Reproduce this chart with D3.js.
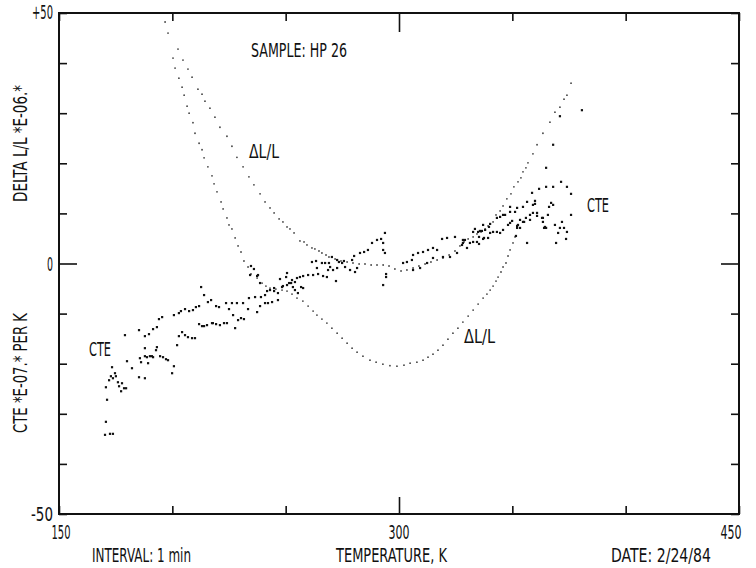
<!DOCTYPE html>
<html>
<head>
<meta charset="utf-8">
<script src="https://cdn.jsdelivr.net/npm/d3@7"></script>
<style>
html, body { margin: 0; padding: 0; background: #fff; }
svg { display: block; font-family: "Liberation Sans Narrow", "DejaVu Sans Condensed", "Liberation Sans", Arial, sans-serif; }
</style>
</head>
<body>
<svg id="chart" width="756" height="568"></svg>
<script>
// Eixos
const xTicks = [150, 200, 250, 300, 350, 400, 450];
const yTicks = [-50, -40, -30, -20, -10, 0, 10, 20, 30, 40, 50];
const xLabels = ['150', '300', '450'];
const yLabels = ['+50', '0', '-50'];

// Delta L/L, primeira corrida (curva inferior)  [T, valor]
const dlA = [
  [196.8,48.2],[198.1,46.0],[200.3,41.0],[201.2,39.0],[202.9,37.0],[204.3,35.2],[205.2,33.6],[206.5,31.4],
  [207.4,30.0],[209.1,28.1],[210.0,26.0],[211.8,24.0],[213.1,22.7],[214.0,21.1],[215.7,19.3],[217.5,17.5],
  [218.4,15.9],[219.7,14.3],[221.5,12.3],[222.4,10.9],[224.1,9.1],[225.0,7.7],[226.3,6.9],[227.7,5.1],
  [229.0,3.5],[230.3,2.3],[231.6,0.5],[233.4,-0.7],[234.7,-2.1],[237.4,-2.9],[239.6,-3.9],[241.3,-4.5],
  [243.1,-4.9],[245.7,-5.1],[248.4,-5.3],[250.6,-5.5],[252.8,-6.1],[255.0,-6.9],[257.6,-7.5],[259.9,-8.5],
  [262.1,-9.5],[263.8,-10.3],[266.0,-11.1],[268.2,-11.9],[270.4,-12.9],[272.7,-13.9],[274.9,-14.9],[277.1,-15.9],
  [279.3,-16.9],[281.5,-17.7],[284.1,-18.5],[287.2,-19.3],[289.9,-19.7],[292.9,-20.1],[296.0,-20.4],[299.1,-20.5],
  [302.2,-20.3],[304.9,-19.9],[307.9,-19.7],[310.6,-19.3],[312.8,-18.7],[315.0,-18.1],[317.2,-17.3],[319.4,-16.3],
  [321.6,-15.1],[323.8,-13.9],[326.0,-12.9],[328.2,-11.7],[330.5,-10.5],[332.7,-9.3],[334.9,-8.1],[337.1,-6.9],
  [338.8,-6.1],[340.2,-5.3],[341.5,-4.5],[342.8,-3.5],[343.7,-2.7],[345.0,-1.7],[345.9,-0.7],[347.2,0.1],
  [348.1,1.5],[349.0,2.7],[350.3,4.1],[351.2,5.3]
];

// Delta L/L, segunda corrida (curva superior)
const dlB = [
  [202.5,42.8],[204.7,40.6],[206.9,38.8],[208.7,37.2],[211.3,34.8],[213.1,33.8],[214.4,32.4],[216.6,31.0],
  [218.8,29.2],[221.0,27.2],[224.1,25.4],[226.3,23.4],[228.5,21.2],[231.2,19.3],[233.8,17.3],[236.0,15.7],
  [238.7,13.9],[240.9,12.3],[243.1,11.1],[244.9,10.1],[247.1,8.9],[248.8,8.3],[250.6,7.3],[251.9,6.9],
  [253.7,6.1],[256.3,4.5],[258.1,4.3],[259.4,3.7],[261.6,3.1],[262.9,2.9],[264.7,2.5],[266.0,2.1],
  [267.8,1.7],[269.1,1.3],[271.8,0.9],[274.4,0.5],[277.1,0.3],[279.7,0.1],[282.4,-0.1],[285.0,-0.1],
  [287.7,-0.3],[290.3,-0.3],[293.0,-0.3],[295.6,-0.5],[298.2,-1.1],[300.9,-1.5],[303.5,-1.3],[306.2,-0.9],
  [308.8,-0.5],[311.5,-0.1],[314.1,0.3],[316.8,0.7],[319.4,1.1],[322.1,1.7],[324.7,2.5],[326.9,3.5],
  [328.7,4.3],[330.5,4.9],[332.7,5.3],[334.4,5.9],[336.2,6.3],[338.0,6.9],[339.3,7.5],[341.5,8.3],
  [342.8,9.7],[344.6,10.5],[345.9,11.5],[347.6,12.9],[349.4,13.9],[350.7,15.3],[352.5,16.3],[353.8,17.1],
  [354.7,18.3],[356.0,19.1],[356.9,20.1],[359.1,21.9],[360.9,23.7],[363.5,26.0],[366.6,28.2],[368.8,30.2],
  [371.0,31.2],[372.8,32.8],[374.1,33.6],[375.9,36.0]
];

// CTE (E-07 por K)
const cte = [
  [170.3,-34.2],[172.5,-34.0],[173.8,-34.0],[170.7,-31.6],[171.2,-27.2],[170.7,-24.7],[172.1,-23.3],[172.9,-22.5],
  [173.8,-22.9],[175.1,-22.5],[173.4,-20.7],[174.7,-21.9],[176.0,-23.7],[176.5,-24.5],[177.4,-25.5],[177.8,-23.9],
  [178.7,-24.9],[179.6,-24.9],[179.1,-14.3],[180.0,-19.5],[182.2,-20.9],
  [185.3,-22.7],[187.9,-22.9],[185.7,-18.9],[186.2,-19.7],[187.9,-18.5],[188.8,-18.7],[189.3,-19.9],[190.1,-18.5],
  [191.0,-18.5],[191.5,-18.7],[193.2,-16.7],[192.8,-17.3],[185.3,-13.3],[187.9,-14.5],[189.7,-14.1],[191.5,-13.1],
  [193.2,-12.7],[194.1,-11.1],[195.5,-10.7],[194.6,-18.5],[195.9,-18.7],[197.2,-19.1],[198.1,-19.3],[200.7,-20.5],
  [199.9,-21.9],[187.9,-16.9],
  [200.7,-10.3],[202.9,-9.9],[203.8,-9.5],[205.6,-9.1],[207.4,-9.5],[209.1,-9.3],[210.4,-8.7],[211.8,-8.5],
  [212.7,-4.7],[214.0,-6.3],[215.7,-7.7],[217.1,-7.3],
  [202.1,-16.3],[202.9,-14.5],[204.3,-13.7],[205.6,-14.3],[206.9,-14.7],[208.7,-14.9],[210.0,-14.9],[211.8,-12.1],
  [213.1,-12.5],[214.0,-12.5],[215.3,-12.3],[217.5,-11.9],[217.9,-11.9],[219.3,-12.1],[221.0,-12.3],[222.8,-11.9],
  [224.1,-11.9],[227.7,-12.9],
  [219.3,-8.5],[220.6,-8.7],[223.7,-7.9],[225.0,-9.1],[226.3,-7.9],[226.8,-10.3],[228.5,-7.9],[229.0,-11.3],
  [230.3,-10.9],[231.2,-7.9],[231.6,-11.1],
  [233.4,-9.1],[237.4,-9.7],[238.7,-8.5],[240.9,-7.9],[242.2,-7.9],[244.0,-7.7],[246.6,-7.3],[233.8,-6.9],
  [236.5,-6.7],[239.1,-6.7],[240.9,-6.3],[241.8,-5.5],[243.1,-5.3],[244.9,-5.5],[246.6,-5.9],[248.4,-4.7],
  [250.6,-4.3],[252.4,-3.9],[254.1,-3.7],[255.0,-2.9],[256.3,-2.7],[257.7,-2.5],[259.9,-2.3],[262.1,-2.3],
  [264.3,-2.1],[266.5,-2.5],[268.2,-2.7],[272.2,-3.5],[250.2,-2.7],[252.8,-3.3],[256.8,-4.7],[254.1,-5.3],
  [257.7,-4.9],[255.4,-5.9],[237.4,-2.5],[238.7,-3.9],[244.9,-4.9],[247.5,-3.1],[248.8,-4.5],[251.5,-3.9],
  [250.6,-1.9],[234.7,-0.5],[236.0,-1.1],[234.3,-2.3],[237.8,-2.3],[253.2,-4.7],
  [261.6,0.3],[263.4,0.5],[266.0,0.1],[269.1,0.1],[270.4,1.3],[272.7,0.7],[273.5,0.3],[274.9,0.1],
  [275.7,0.5],[279.3,0.7],[280.2,1.5],[282.8,2.1],[284.6,2.3],[286.3,2.7],[288.1,4.1],[290.3,4.7],
  [292.1,4.9],[293.8,6.1],[293.0,4.1],[293.0,2.7],[293.8,2.1],[293.0,-4.3],[263.8,-0.9],[267.4,0.1],
  [268.7,-1.3],
  [269.6,-0.7],[270.9,-1.3],[272.7,-0.9],[276.2,-0.7],[278.4,-1.3],[280.6,-1.7],[281.5,-0.9],[294.3,-2.1],
  [294.3,-2.7],
  [301.8,0.1],[303.5,0.3],[305.7,0.7],[306.2,1.7],[308.4,2.1],[310.6,2.3],[312.8,2.7],[315.0,3.1],
  [316.8,2.7],[319.0,4.9],[321.2,5.1],[324.7,5.3],[328.2,4.7],[332.7,6.3],[335.7,6.5],[337.1,7.7],
  [340.2,7.9],[343.2,9.1],[345.9,9.7],[349.0,10.3],[352.1,11.1],[354.7,11.3],[359.1,11.7],[356.5,12.3],
  [360.0,12.5],
  [306.2,-1.3],[309.3,-0.9],[312.4,0.1],[315.0,1.1],[319.4,1.3],[322.5,1.3],[325.6,2.1],[328.2,4.1],
  [331.3,4.1],[334.4,4.3],[337.1,4.9],[340.2,6.1],[343.2,6.3],[345.9,6.7],[349.0,8.1],[352.1,7.5],
  [354.7,8.3],[357.8,8.7],[360.9,9.5],[363.5,9.1],[364.4,7.3],[356.5,4.1],[352.1,7.1],
  [361.8,14.9],[364.9,15.3],[368.0,15.3],[371.5,16.3],[374.1,15.3],[375.9,13.9],[367.1,12.1],[368.0,11.7],
  [366.2,11.3],[360.0,11.9],[358.7,14.1],[351.2,10.3],[349.0,11.3],[346.8,9.7],[344.6,9.3],[356.0,9.1],
  [357.8,9.7],[359.1,10.1],[360.9,10.1],[363.1,9.1],[363.5,8.3],[365.7,9.7],[364.9,7.1],[368.8,7.7],
  [371.9,8.3],[375.9,9.7],[371.0,7.1],[372.8,7.1],[374.1,6.3],[373.7,4.9],[370.2,6.1],[364.0,7.1],
  [369.3,4.1],[353.4,8.7],[355.2,8.3],[352.5,7.7],[353.4,7.1],[349.9,8.5],[348.1,7.7],[344.6,6.1],
  [341.5,6.3],[339.7,7.3],[338.0,6.7],[336.6,6.5],[334.9,6.3],[333.5,6.9],[339.3,5.1],[337.5,5.1],
  [335.3,5.3],[332.7,4.3],[329.1,4.7],[327.8,3.7],[330.0,3.1],[335.3,3.9],[351.6,5.5],
  [371.0,29.4],[368.0,23.7],[364.9,19.1],[380.7,30.6]
];

const svg = d3.select('#chart');
const x = d3.scaleLinear().domain([150, 450]).range([59, 739]);
const y = d3.scaleLinear().domain([-50, 50]).range([514, 13]);
const ink = '#111';

// Moldura
svg.append('rect')
  .attr('x', x(150)).attr('y', y(50))
  .attr('width', x(450) - x(150)).attr('height', y(-50) - y(50))
  .attr('fill', 'none').attr('stroke', ink).attr('stroke-width', 2);

// Marcas dos eixos (para dentro)
function marcas(g, attr, len, major, majorLen) {
  g.select('.domain').remove();
  g.selectAll('.tick text').remove();
  g.selectAll('.tick line')
    .attr('stroke', ink).attr('stroke-width', 1.6)
    .attr(attr, d => d === major ? majorLen : len);
}
svg.append('g').attr('transform', `translate(0,${y(-50)})`)
  .call(d3.axisBottom(x).tickValues(xTicks))
  .call(g => marcas(g, 'y2', -8, 300, -17));
svg.append('g').attr('transform', `translate(0,${y(50)})`)
  .call(d3.axisTop(x).tickValues(xTicks))
  .call(g => marcas(g, 'y2', 8, 300, 19));
svg.append('g').attr('transform', `translate(${x(150)},0)`)
  .call(d3.axisLeft(y).tickValues(yTicks))
  .call(g => marcas(g, 'x2', 8, 0, 18));
svg.append('g').attr('transform', `translate(${x(450)},0)`)
  .call(d3.axisRight(y).tickValues(yTicks))
  .call(g => marcas(g, 'x2', -8, 0, -18));

// Texto com largura fixa
function texto(t, px, py, len, anchor, rot) {
  const el = svg.append('text')
    .attr('x', px).attr('y', py)
    .attr('font-size', 19).attr('fill', ink)
    .attr('text-anchor', anchor || 'start')
    .attr('textLength', len).attr('lengthAdjust', 'spacingAndGlyphs')
    .text(t);
  if (rot) el.attr('transform', `rotate(-90,${px},${py})`);
  return el;
}

// Rotulos numericos
texto(xLabels[0], x(150) + 2, 539, 19, 'middle');
texto(xLabels[1], x(300), 539, 21, 'middle');
texto(xLabels[2], x(450) - 8, 539, 21, 'middle');
texto(yLabels[0], 53, y(50) + 6, 21, 'end');
texto(yLabels[1], 53, y(0) + 7, 6, 'end');
texto(yLabels[2], 53, y(-50) + 7, 22, 'end');

// Titulos
texto('TEMPERATURE, K', 336, 562, 111);
texto('INTERVAL: 1 min', 92, 562, 99);
texto('DATE: 2/24/84', 611, 562, 100);
texto('SAMPLE: HP 26', 251, 57, 96);
texto('DELTA L/L *E-06.*', 27, 202, 117, 'start', true);
texto('CTE *E-07.* PER K', 27, 433, 120, 'start', true);
texto('\u0394L/L', 249, 158, 30);
texto('\u0394L/L', 464, 343, 31);
texto('CTE', 587, 212, 22);
texto('CTE', 89, 356, 22);

// Pontos Delta L/L
svg.append('g').selectAll('circle')
  .data(dlA.concat(dlB))
  .enter().append('circle')
  .attr('cx', d => x(d[0])).attr('cy', d => y(d[1]))
  .attr('r', 0.9).attr('fill', '#444');

// Pontos CTE
svg.append('g').selectAll('rect')
  .data(cte)
  .enter().append('rect')
  .attr('x', d => x(d[0]) - 1.1).attr('y', d => y(d[1]) - 1.1)
  .attr('width', 2.2).attr('height', 2.2).attr('fill', ink);
</script>
</body>
</html>
